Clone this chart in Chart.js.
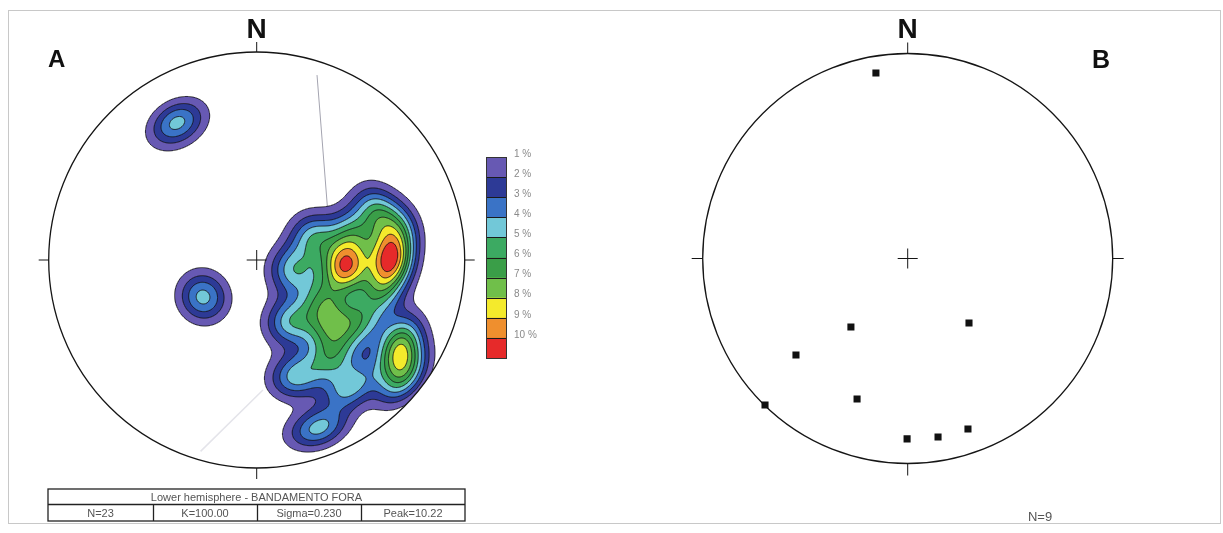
<!DOCTYPE html>
<html>
<head>
<meta charset="utf-8">
<script src="https://cdn.jsdelivr.net/npm/chart.js@4.4.1/dist/chart.umd.min.js"></script>
<style>
  html, body { margin: 0; padding: 0; background: #fff; }
  #wrap { position: relative; width: 1223px; height: 533px; overflow: hidden; background: #fff; }
  #frame { position: absolute; left: 8px; top: 10px; width: 1211px; height: 512px; border: 1px solid #c8c8c8; }
  canvas { position: absolute; top: 0; }
  #stereoA { left: 0; }
  #stereoB { left: 612px; }
</style>
</head>
<body>
<div id="wrap">
  <div id="frame"></div>
  <canvas id="stereoA" width="612" height="533" style="width:612px;height:533px"></canvas>
  <canvas id="stereoB" width="611" height="533" style="width:611px;height:533px"></canvas>
</div>
<script>
// ---- Panel A: poles to banding, equal-area lower hemisphere (projection units, east / north)
const poleEast  = [0.420, 0.429, 0.636, 0.651, 0.679, 0.569, 0.458, 0.275, 0.175, 0.319, 0.348, 0.362,
                   0.160, 0.487, 0.680, 0.689, 0.708, 0.448, 0.189, 0.295, 0.593, -0.383, -0.258];
const poleNorth = [-0.034, -0.034, 0.005, 0.000, 0.144, 0.231, 0.115, 0.106, -0.048, -0.192, -0.317, -0.462,
                   -0.298, -0.298, -0.385, -0.471, -0.567, -0.606, -0.558, -0.808, -0.144, 0.659, -0.178];
// kernel concentration used for the smoothing; percentage per 1% area contributed by one pole
const kernelK = 76;
const percentPerPole = 100 / poleEast.length;

// contour levels (%) and the fill of each band above a level
const contourLevels = [1, 2, 3, 4, 5, 6, 7, 8, 9, 10];
const levelLabels = ['1 %', '2 %', '3 %', '4 %', '5 %', '6 %', '7 %', '8 %', '9 %', '10 %'];
const bandColors = ['#6759b3', '#2d3a96', '#3a73c6', '#72c8d8', '#3caa62',
                    '#3a9e48', '#70bf4a', '#f4ea2c', '#ef8f2e', '#e62a2a'];

// faint construction traces under the contours
const traceEast  = [0.29, 0.343];
const traceNorth = [0.889, 0.216];
const trace2East  = [-0.27, 0.03];
const trace2North = [-0.92, -0.625];

const statsTitle = 'Lower hemisphere - BANDAMENTO FORA';
const statsCells = ['N=23', 'K=100.00', 'Sigma=0.230', 'Peak=10.22'];

// ---- Panel B: plotted measurements (projection units, east / north)
const pointEast  = [-0.155, -0.277, 0.299, -0.545, -0.696, -0.247, -0.003, 0.148, 0.294];
const pointNorth = [0.905, -0.334, -0.315, -0.471, -0.715, -0.685, -0.880, -0.871, -0.832];
const countLabelB = 'N=' + pointEast.length;

const FONT = '"Liberation Sans", Arial, Helvetica, sans-serif';

// equal-area (Schmidt) lower-hemisphere inverse: projection point -> unit vector
function toVec(e, n) {
  let r = Math.sqrt(e * e + n * n);
  if (r > 1) { e /= r; n /= r; r = 1; }
  if (r === 0) return [0, 0, -1];
  const phi = 2 * Math.asin(r / Math.SQRT2);
  const s = Math.sin(phi);
  return [s * e / r, s * n / r, -Math.cos(phi)];
}

function hexRgb(h) {
  return [parseInt(h.slice(1, 3), 16), parseInt(h.slice(3, 5), 16), parseInt(h.slice(5, 7), 16)];
}

function drawNet(ctx, chart, tickLen) {
  const xs = chart.scales.x, ys = chart.scales.y;
  const cx = xs.getPixelForValue(0), cy = ys.getPixelForValue(0);
  const R = xs.getPixelForValue(1) - cx;
  ctx.save();
  ctx.strokeStyle = '#151515';
  ctx.lineWidth = 1.3;
  ctx.beginPath();
  ctx.arc(cx, cy, R, 0, Math.PI * 2);
  ctx.stroke();
  ctx.lineWidth = 1;
  ctx.beginPath();
  ctx.moveTo(cx, cy - R); ctx.lineTo(cx, cy - R - tickLen);
  ctx.moveTo(cx, cy + R); ctx.lineTo(cx, cy + R + tickLen + 1);
  ctx.moveTo(cx - R, cy); ctx.lineTo(cx - R - tickLen, cy);
  ctx.moveTo(cx + R, cy); ctx.lineTo(cx + R + tickLen, cy);
  ctx.moveTo(cx - 10, cy); ctx.lineTo(cx + 10, cy);
  ctx.moveTo(cx, cy - 10); ctx.lineTo(cx, cy + 10);
  ctx.stroke();
  ctx.fillStyle = '#111';
  ctx.font = 'bold 28px ' + FONT;
  ctx.textAlign = 'center';
  ctx.textBaseline = 'alphabetic';
  ctx.fillText('N', cx, 38);
  ctx.restore();
  return { cx, cy, R };
}

const EDGE_CASES = {
  1: [['L', 'B']], 2: [['B', 'R']], 3: [['L', 'R']], 4: [['T', 'R']],
  5: [['L', 'T'], ['B', 'R']], 6: [['T', 'B']], 7: [['L', 'T']], 8: [['L', 'T']],
  9: [['T', 'B']], 10: [['T', 'R'], ['L', 'B']], 11: [['T', 'R']], 12: [['L', 'R']],
  13: [['B', 'R']], 14: [['L', 'B']]
};

const densityPlugin = {
  id: 'densityPlugin',
  afterDatasetsDraw(chart) {
    const ctx = chart.ctx, ca = chart.chartArea;
    const xs = chart.scales.x, ys = chart.scales.y;
    const cx = xs.getPixelForValue(0), cy = ys.getPixelForValue(0);
    const R = xs.getPixelForValue(1) - cx;
    const poles = poleEast.map((e, i) => toVec(e, poleNorth[i]));

    const x0 = Math.floor(ca.left) - 1, y0 = Math.floor(ca.top) - 1;
    const W = Math.ceil(ca.right) - x0 + 2, H = Math.ceil(ca.bottom) - y0 + 2;
    const grid = new Float32Array(W * H);
    const eVals = [], nVals = [];
    for (let i = 0; i < W; i++) eVals.push(xs.getValueForPixel(x0 + i + 0.5));
    for (let j = 0; j < H; j++) nVals.push(ys.getValueForPixel(y0 + j + 0.5));
    for (let j = 0; j < H; j++) {
      for (let i = 0; i < W; i++) {
        const v = toVec(eVals[i], nVals[j]);
        let s = 0;
        for (let k = 0; k < poles.length; k++) {
          const p = poles[k];
          const d = v[0] * p[0] + v[1] * p[1] + v[2] * p[2];
          s += Math.exp(kernelK * (d - 1));
        }
        grid[j * W + i] = s * percentPerPole;
      }
    }

    // filled bands
    const off = document.createElement('canvas');
    off.width = W; off.height = H;
    const octx = off.getContext('2d');
    const img = octx.createImageData(W, H);
    const rgb = bandColors.map(hexRgb);
    for (let j = 0; j < H; j++) {
      for (let i = 0; i < W; i++) {
        const val = grid[j * W + i];
        let band = -1;
        for (let k = 0; k < contourLevels.length; k++) if (val >= contourLevels[k]) band = k;
        if (band < 0) continue;
        const o = (j * W + i) * 4;
        img.data[o] = rgb[band][0]; img.data[o + 1] = rgb[band][1]; img.data[o + 2] = rgb[band][2];
        img.data[o + 3] = 255;
      }
    }
    octx.putImageData(img, 0, 0);

    ctx.save();
    ctx.beginPath();
    ctx.arc(cx, cy, R, 0, Math.PI * 2);
    ctx.clip();
    ctx.drawImage(off, x0, y0);

    // contour lines (marching squares on pixel centres)
    ctx.beginPath();
    for (const L of contourLevels) {
      for (let j = 0; j < H - 1; j++) {
        for (let i = 0; i < W - 1; i++) {
          const a = grid[j * W + i], b = grid[j * W + i + 1];
          const c = grid[(j + 1) * W + i + 1], d = grid[(j + 1) * W + i];
          const idx = (a >= L ? 8 : 0) | (b >= L ? 4 : 0) | (c >= L ? 2 : 0) | (d >= L ? 1 : 0);
          if (idx === 0 || idx === 15) continue;
          const px = x0 + i + 0.5, py = y0 + j + 0.5;
          const pt = (edge) => {
            switch (edge) {
              case 'T': return [px + (L - a) / (b - a), py];
              case 'R': return [px + 1, py + (L - b) / (c - b)];
              case 'B': return [px + (L - d) / (c - d), py + 1];
              default:  return [px, py + (L - a) / (d - a)];
            }
          };
          for (const seg of EDGE_CASES[idx]) {
            const p1 = pt(seg[0]), p2 = pt(seg[1]);
            ctx.moveTo(p1[0], p1[1]);
            ctx.lineTo(p2[0], p2[1]);
          }
        }
      }
    }
    ctx.strokeStyle = '#141414';
    ctx.lineWidth = 0.9;
    ctx.stroke();
    ctx.restore();

    drawNet(ctx, chart, 10);

    // panel letter
    ctx.save();
    ctx.fillStyle = '#111';
    ctx.font = 'bold 24px ' + FONT;
    ctx.textAlign = 'left';
    ctx.fillText('A', 48, 67);

    // colour key
    const kx = 486, kw = 20, ky = 157, kh = 201;
    const step = kh / bandColors.length;
    bandColors.forEach((col, k) => {
      ctx.fillStyle = col;
      ctx.fillRect(kx, ky + k * step, kw, step + 0.5);
    });
    ctx.strokeStyle = '#1a1a1a';
    ctx.lineWidth = 1;
    ctx.beginPath();
    for (let k = 1; k < bandColors.length; k++) {
      ctx.moveTo(kx, Math.round(ky + k * step) + 0.5);
      ctx.lineTo(kx + kw, Math.round(ky + k * step) + 0.5);
    }
    ctx.stroke();
    ctx.strokeStyle = '#333';
    ctx.strokeRect(kx + 0.5, ky + 0.5, kw, kh);
    ctx.fillStyle = '#8a8a8a';
    ctx.font = '10px ' + FONT;
    ctx.textBaseline = 'middle';
    levelLabels.forEach((t, k) => ctx.fillText(t, kx + 28, ky - 3 + k * step));

    // statistics box
    ctx.strokeStyle = '#222';
    ctx.lineWidth = 1.3;
    ctx.strokeRect(48, 489, 417, 32);
    ctx.beginPath();
    ctx.moveTo(48, 504.5); ctx.lineTo(465, 504.5);
    [153, 257, 361].forEach(x => { ctx.moveTo(x + 0.5, 504.5); ctx.lineTo(x + 0.5, 521); });
    ctx.stroke();
    ctx.fillStyle = '#555';
    ctx.font = '11px ' + FONT;
    ctx.textAlign = 'center';
    ctx.fillText(statsTitle, 256.5, 497.5);
    const centres = [100.5, 205, 309, 413];
    statsCells.forEach((t, k) => ctx.fillText(t, centres[k], 513.5));
    ctx.restore();
  }
};

const netPluginB = {
  id: 'netPluginB',
  beforeDatasetsDraw(chart) {
    const ctx = chart.ctx;
    drawNet(ctx, chart, 11);
    ctx.save();
    ctx.fillStyle = '#111';
    ctx.font = 'bold 25px ' + FONT;
    ctx.textAlign = 'left';
    ctx.fillText('B', 1092 - 612, 68);
    ctx.fillStyle = '#555';
    ctx.font = '13px ' + FONT;
    ctx.textAlign = 'center';
    ctx.textBaseline = 'middle';
    ctx.fillText(countLabelB, 1040 - 612, 517);
    ctx.restore();
  }
};

const unitScales = {
  x: { type: 'linear', min: -1, max: 1, display: false },
  y: { type: 'linear', min: -1, max: 1, display: false }
};
const quiet = { legend: { display: false }, tooltip: { enabled: false }, title: { display: false } };

new Chart(document.getElementById('stereoA'), {
  type: 'scatter',
  data: {
    datasets: [
      { data: traceEast.map((e, i) => ({ x: e, y: traceNorth[i] })), showLine: true,
        borderColor: '#a4a4b0', borderWidth: 1, pointRadius: 0 },
      { data: trace2East.map((e, i) => ({ x: e, y: trace2North[i] })), showLine: true,
        borderColor: '#e4e4ea', borderWidth: 1.5, pointRadius: 0 }
    ]
  },
  options: {
    responsive: false, animation: false, events: [],
    layout: { padding: { left: 48.7, right: 147.3, top: 52, bottom: 65 } },
    scales: unitScales, plugins: quiet
  },
  plugins: [densityPlugin]
});

new Chart(document.getElementById('stereoB'), {
  type: 'scatter',
  data: {
    datasets: [{
      data: pointEast.map((e, i) => ({ x: e, y: pointNorth[i] })),
      pointStyle: 'rect', pointRadius: 5, borderWidth: 0,
      backgroundColor: '#111', borderColor: '#111'
    }]
  },
  options: {
    responsive: false, animation: false, events: [],
    layout: { padding: { left: 90.7, right: 110.3, top: 53.5, bottom: 69.5 } },
    scales: unitScales, plugins: quiet
  },
  plugins: [netPluginB]
});
</script>
</body>
</html>
